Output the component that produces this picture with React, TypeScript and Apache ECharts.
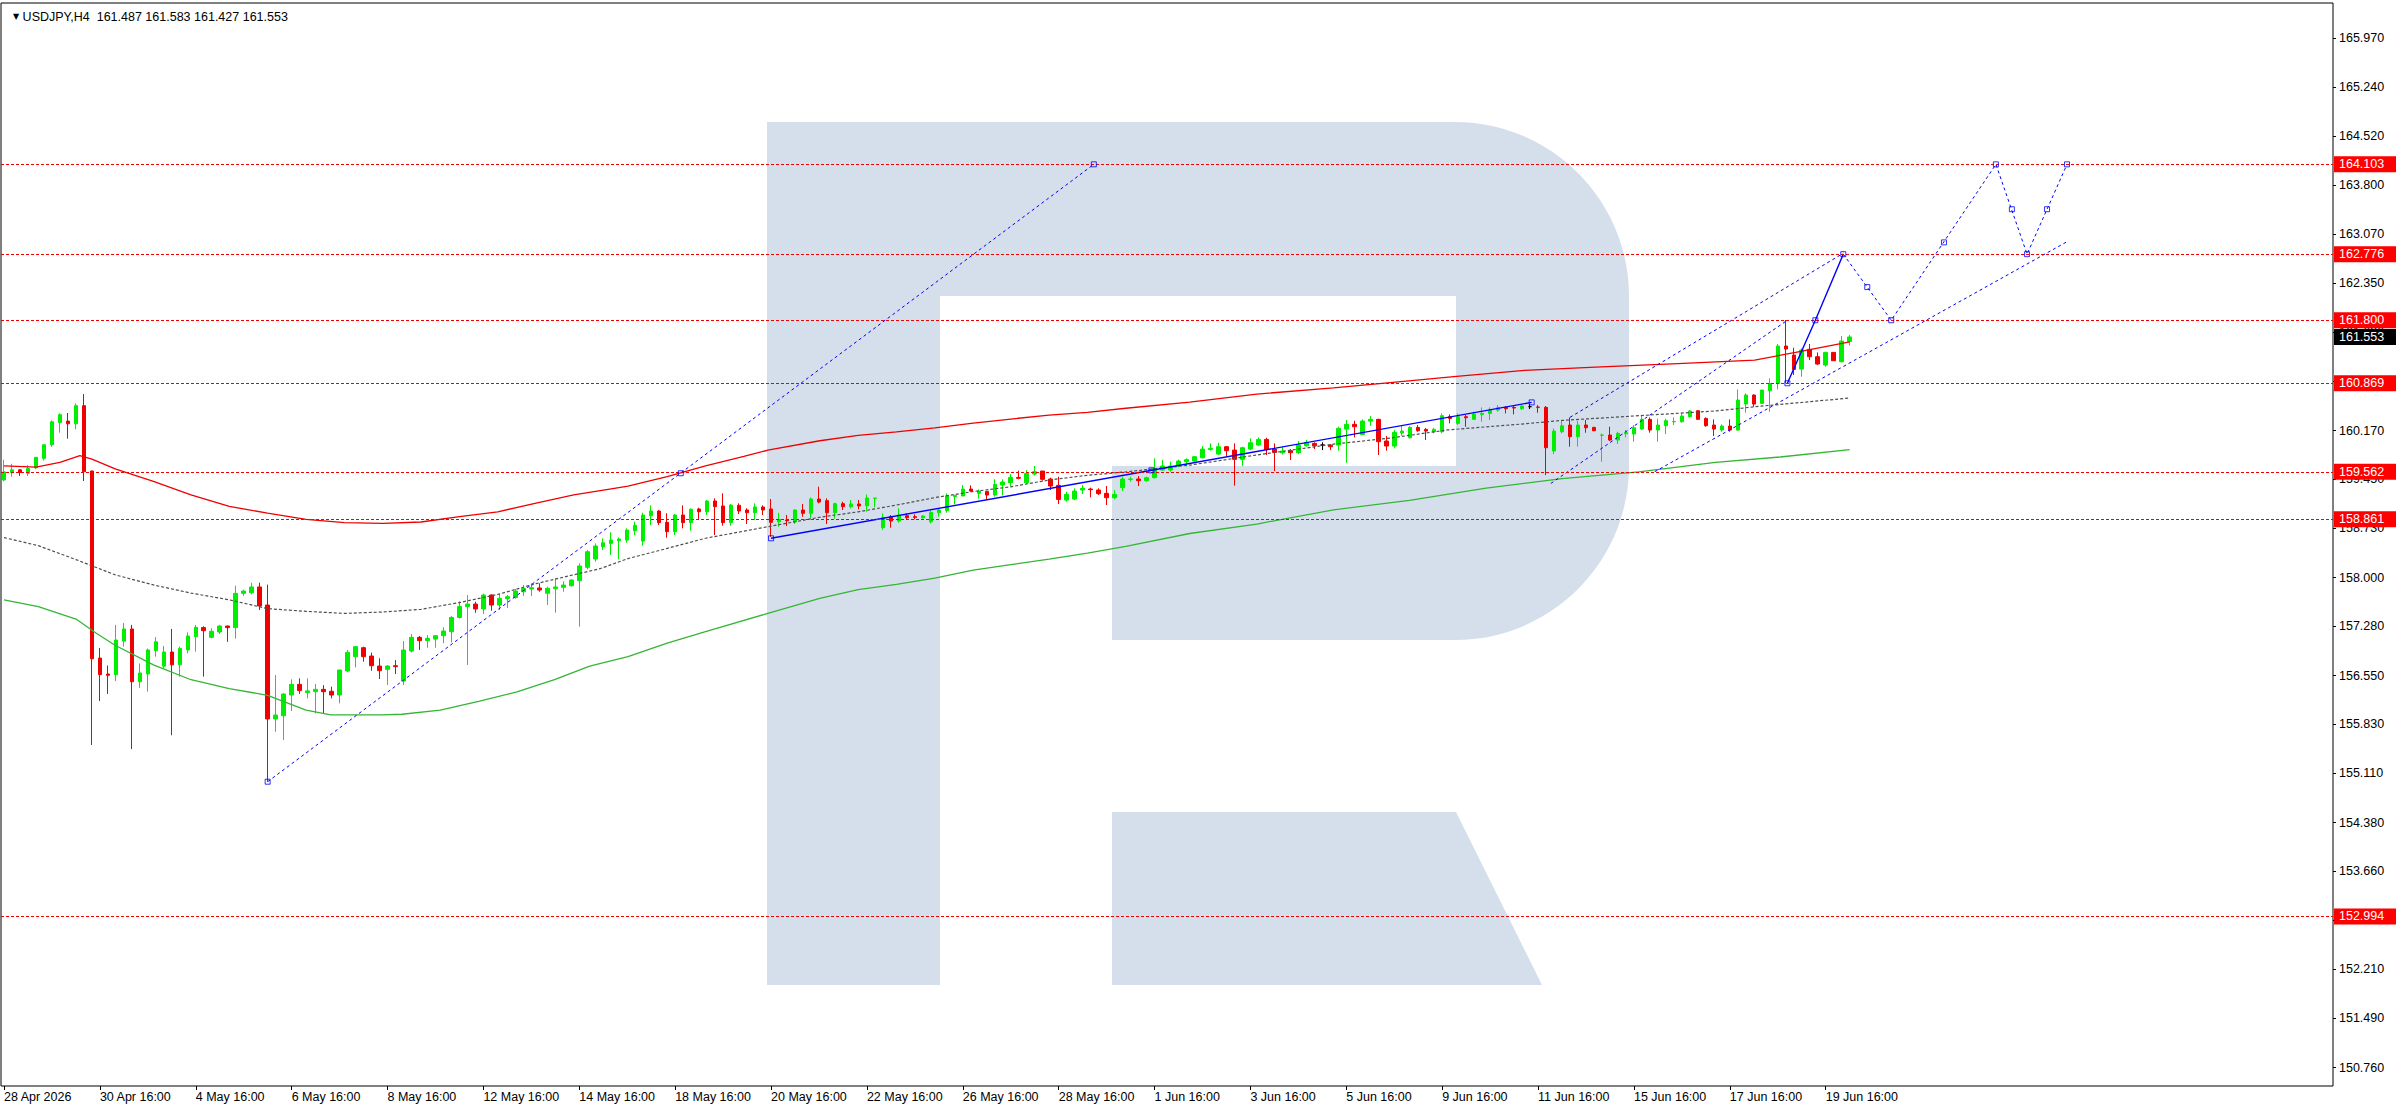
import React, { useEffect, useRef } from "react";
import * as echarts from "echarts";

const FONT = "'Liberation Sans', Arial, sans-serif";

const titleText = "USDJPY,H4  161.487 161.583 161.427 161.553";

const xTickBars = [0, 12, 24, 36, 48, 60, 72, 84, 96, 108, 120, 132, 144, 156, 168, 180, 192, 204, 216, 228];
const xTickLabels = [
  "28 Apr 2026", "30 Apr 16:00", "4 May 16:00", "6 May 16:00", "8 May 16:00", "12 May 16:00",
  "14 May 16:00", "18 May 16:00", "20 May 16:00", "22 May 16:00", "26 May 16:00", "28 May 16:00",
  "1 Jun 16:00", "3 Jun 16:00", "5 Jun 16:00", "9 Jun 16:00", "11 Jun 16:00", "15 Jun 16:00",
  "17 Jun 16:00", "19 Jun 16:00",
];
const yTickLabels = [
  "150.760", "151.490", "152.210", "152.940", "153.660", "154.380", "155.110", "155.830",
  "156.550", "157.280", "158.000", "158.730", "159.450", "160.170", "160.900", "161.630",
  "162.350", "163.070", "163.800", "164.520", "165.240", "165.970",
];

const priceLevels = [164.103, 162.776, 161.8, 160.869, 159.562, 158.861, 152.994];
const lastPrice = 161.553;

// OHLC per H4 bar: [open, high, low, close]
const week1 = [
  [159.44, 159.74, 159.42, 159.56], [159.55, 159.68, 159.49, 159.59], [159.59, 159.6, 159.5, 159.55],
  [159.54, 159.66, 159.5, 159.61], [159.62, 159.78, 159.6, 159.775], [159.76, 159.97, 159.73, 159.96],
  [159.96, 160.32, 159.93, 160.3], [160.29, 160.425, 160.14, 160.405], [160.31, 160.43, 160.05, 160.27],
  [160.27, 160.57, 160.19, 160.538], [160.538, 160.71, 159.425, 159.563], [159.573, 159.58, 155.526, 156.8],
  [156.81, 156.96, 156.175, 156.565], [156.575, 156.7, 156.28, 156.555], [156.565, 157.3, 156.47, 157.077],
  [157.06, 157.33, 156.98, 157.24], [157.24, 157.3, 155.466, 156.46], [156.46, 156.73, 156.37, 156.59],
  [156.575, 156.95, 156.315, 156.93], [156.92, 157.12, 156.83, 157.05],
];
const week2 = [
  [156.69, 156.99, 156.65, 156.9], [156.9, 157.24, 155.67, 156.71], [156.71, 156.98, 156.535, 156.95],
  [156.93, 157.19, 156.88, 157.136], [157.126, 157.3, 156.905, 157.264], [157.26, 157.28, 156.535, 157.214],
  [157.116, 157.25, 157.1, 157.205], [157.195, 157.3, 157.165, 157.283], [157.283, 157.29, 157.05, 157.26],
  [157.26, 157.88, 157.097, 157.766], [157.766, 157.82, 157.73, 157.8], [157.775, 157.923, 157.75, 157.86],
  [157.86, 157.923, 157.52, 157.58], [157.593, 157.894, 154.984, 155.91], [155.91, 156.56, 155.722, 155.968],
  [155.958, 156.29, 155.6, 156.279], [156.264, 156.495, 156.028, 156.422], [156.422, 156.51, 156.28, 156.33],
  [156.3, 156.51, 156.215, 156.325], [156.313, 156.427, 155.993, 156.348], [156.348, 156.41, 155.993, 156.313],
  [156.32, 156.387, 156.215, 156.264], [156.264, 156.634, 156.141, 156.634], [156.619, 156.93, 156.6, 156.894],
  [156.83, 156.988, 156.673, 156.978], [156.963, 156.978, 156.757, 156.83], [156.84, 156.89, 156.623, 156.697],
  [156.692, 156.806, 156.5, 156.624], [156.643, 156.707, 156.412, 156.692], [156.697, 156.78, 156.574, 156.683],
];
const week3 = [
  [156.471, 157.06, 156.412, 156.929], [156.914, 157.165, 156.894, 157.116], [157.116, 157.136, 156.93, 157.067],
  [157.067, 157.15, 156.963, 157.101], [157.09, 157.15, 156.963, 157.14], [157.14, 157.264, 157.03, 157.21],
  [157.2, 157.43, 157.04, 157.41], [157.41, 157.65, 157.392, 157.57], [157.57, 157.741, 156.707, 157.608],
  [157.608, 157.643, 157.48, 157.535], [157.535, 157.761, 157.46, 157.741], [157.741, 157.751, 157.51, 157.593],
  [157.593, 157.756, 157.52, 157.692], [157.687, 157.741, 157.55, 157.716], [157.706, 157.83, 157.687, 157.8],
  [157.79, 157.89, 157.726, 157.84], [157.83, 157.914, 157.726, 157.85], [157.845, 157.914, 157.79, 157.815],
  [157.767, 157.865, 157.594, 157.84], [157.835, 157.987, 157.48, 157.86], [157.855, 157.943, 157.79, 157.889],
  [157.879, 157.973, 157.864, 157.963], [157.953, 158.209, 157.274, 158.17], [158.15, 158.406, 158.12, 158.381],
  [158.273, 158.504, 158.234, 158.465], [158.455, 158.578, 158.406, 158.514], [158.504, 158.667, 158.332, 158.553],
  [158.544, 158.593, 158.268, 158.568], [158.553, 158.726, 158.514, 158.701], [158.691, 158.824, 158.627, 158.77],
];
const week4 = [
  [158.539, 158.957, 158.47, 158.923], [158.913, 159.066, 158.775, 158.982], [158.982, 158.997, 158.775, 158.81],
  [158.815, 158.948, 158.588, 158.677], [158.677, 158.938, 158.627, 158.923], [158.923, 159.066, 158.726, 158.81],
  [158.81, 159.022, 158.691, 159.007], [159.012, 159.031, 158.859, 158.972], [158.972, 159.145, 158.923, 159.13],
  [159.13, 159.169, 158.628, 159.046], [159.056, 159.243, 158.765, 158.81], [158.81, 159.086, 158.765, 159.07],
  [159.066, 159.096, 158.938, 158.982], [158.997, 159.022, 158.79, 158.957], [158.957, 159.096, 158.849, 159.041],
  [159.041, 159.066, 158.923, 158.997], [159.012, 159.159, 158.603, 158.815], [158.824, 158.957, 158.75, 158.859],
  [158.85, 158.923, 158.76, 158.839], [158.824, 159.007, 158.79, 158.997], [158.997, 159.086, 158.898, 158.948],
  [158.948, 159.184, 158.874, 159.159], [159.159, 159.341, 159.095, 159.115], [159.135, 159.169, 158.79, 158.957],
  [158.957, 159.105, 158.869, 159.091], [159.091, 159.12, 158.997, 159.046], [159.046, 159.145, 159.022, 159.086],
  [159.086, 159.145, 159.007, 159.056], [159.061, 159.228, 158.972, 159.174], [159.169, 159.174, 159.036, 159.174],
];
const week5 = [
  [158.736, 158.948, 158.701, 158.883], [158.898, 158.923, 158.736, 158.834], [158.834, 159.022, 158.81, 158.923],
  [158.913, 158.948, 158.849, 158.883], [158.898, 158.933, 158.859, 158.888], [158.883, 158.923, 158.869, 158.908],
  [158.824, 158.987, 158.8, 158.962], [158.957, 159.022, 158.898, 158.997], [158.987, 159.243, 158.957, 159.204],
  [159.194, 159.218, 159.08, 159.213], [159.204, 159.366, 159.204, 159.307], [159.307, 159.361, 159.268, 159.277],
  [159.243, 159.302, 159.164, 159.277], [159.272, 159.277, 159.154, 159.218], [159.218, 159.45, 159.194, 159.376],
  [159.366, 159.45, 159.213, 159.41], [159.4, 159.528, 159.351, 159.479], [159.479, 159.578, 159.45, 159.465],
  [159.4, 159.588, 159.381, 159.538], [159.528, 159.647, 159.504, 159.563], [159.573, 159.573, 159.43, 159.45],
  [159.455, 159.474, 159.292, 159.351], [159.361, 159.489, 159.085, 159.154], [159.144, 159.268, 159.12, 159.228],
  [159.159, 159.317, 159.144, 159.277], [159.292, 159.366, 159.233, 159.317], [159.307, 159.327, 159.184, 159.297],
  [159.292, 159.317, 159.218, 159.238], [159.243, 159.351, 159.071, 159.179], [159.179, 159.292, 159.154, 159.228],
];
const week6 = [
  [159.327, 159.489, 159.277, 159.455], [159.45, 159.489, 159.415, 159.455], [159.455, 159.499, 159.351, 159.43],
  [159.43, 159.489, 159.415, 159.474], [159.474, 159.76, 159.465, 159.612], [159.587, 159.736, 159.578, 159.647],
  [159.588, 159.711, 159.563, 159.647], [159.66, 159.74, 159.63, 159.72], [159.71, 159.76, 159.64, 159.74],
  [159.72, 159.794, 159.71, 159.784], [159.769, 159.942, 159.759, 159.897], [159.892, 159.981, 159.873, 159.907],
  [159.823, 159.991, 159.808, 159.932], [159.932, 159.942, 159.784, 159.873], [159.882, 159.981, 159.356, 159.745],
  [159.745, 159.932, 159.646, 159.917], [159.897, 160.055, 159.882, 159.991], [159.957, 160.07, 159.942, 160.04],
  [160.04, 160.065, 159.809, 159.892], [159.897, 159.981, 159.572, 159.848], [159.843, 159.932, 159.818, 159.868],
  [159.873, 159.897, 159.735, 159.843], [159.843, 160.016, 159.823, 159.956], [159.946, 160.03, 159.932, 159.996],
  [159.981, 159.996, 159.897, 159.946], [159.957, 159.996, 159.882, 159.957], [159.956, 159.966, 159.882, 159.932],
  [159.956, 160.227, 159.873, 160.203], [160.193, 160.326, 159.695, 160.262], [160.262, 160.316, 160.07, 160.227],
];
const week7 = [
  [160.114, 160.336, 160.104, 160.311], [160.311, 160.385, 160.242, 160.336], [160.336, 160.345, 159.809, 160.006],
  [160.016, 160.089, 159.873, 159.942], [159.942, 160.178, 159.907, 160.144], [160.134, 160.252, 160.094, 160.163],
  [160.065, 160.237, 160.055, 160.217], [160.217, 160.252, 160.153, 160.168], [160.188, 160.207, 160.03, 160.163],
  [160.153, 160.212, 160.129, 160.188], [160.153, 160.424, 160.129, 160.39], [160.375, 160.409, 160.276, 160.35],
  [160.276, 160.424, 160.252, 160.375], [160.375, 160.4, 160.227, 160.36], [160.336, 160.449, 160.326, 160.414],
  [160.409, 160.513, 160.301, 160.424], [160.424, 160.513, 160.326, 160.473], [160.473, 160.547, 160.449, 160.508],
  [160.513, 160.532, 160.424, 160.493], [160.513, 160.532, 160.41, 160.503], [160.493, 160.547, 160.473, 160.532],
  [160.523, 160.562, 160.488, 160.523], [160.518, 160.547, 160.434, 160.513], [160.513, 160.532, 159.513, 159.917],
  [159.868, 160.202, 159.823, 160.163], [160.153, 160.311, 160.129, 160.242], [160.252, 160.365, 159.932, 160.08],
  [160.08, 160.311, 159.932, 160.252], [160.252, 160.326, 160.139, 160.212], [160.217, 160.227, 160.163, 160.168],
];
const week8 = [
  [160.1, 160.129, 159.71, 160.104], [160.104, 160.227, 160.016, 160.03], [160.03, 160.153, 159.972, 160.129],
  [160.124, 160.178, 160.07, 160.139], [160.119, 160.252, 160.006, 160.212], [160.193, 160.385, 160.178, 160.336],
  [160.336, 160.365, 160.139, 160.178], [160.178, 160.345, 160.006, 160.252], [160.242, 160.345, 160.119, 160.316],
  [160.3, 160.365, 160.252, 160.305], [160.301, 160.424, 160.286, 160.385], [160.375, 160.473, 160.365, 160.459],
  [160.464, 160.473, 160.326, 160.336], [160.35, 160.365, 160.227, 160.242], [160.252, 160.336, 160.089, 160.193],
  [160.178, 160.262, 160.153, 160.237], [160.237, 160.336, 160.153, 160.178], [160.178, 160.779, 160.168, 160.621],
  [160.562, 160.72, 160.434, 160.695], [160.695, 160.705, 160.523, 160.562], [160.572, 160.769, 160.562, 160.769],
  [160.759, 160.941, 160.449, 160.867], [160.867, 161.449, 160.78, 161.419], [161.419, 161.803, 160.867, 161.375],
  [161.286, 161.394, 160.99, 161.074], [161.079, 161.384, 160.966, 161.36], [161.37, 161.449, 161.212, 161.261],
  [161.261, 161.325, 161.138, 161.153], [161.138, 161.335, 161.114, 161.325], [161.325, 161.325, 161.202, 161.202],
];
const week9 = [
  [161.187, 161.567, 161.177, 161.493], [161.487, 161.583, 161.427, 161.553],
];

const blackDojiBars = [165, 191];

// moving averages, read as [bar, price]
const redMA = [
  [0, 159.65], [4, 159.63], [7, 159.7], [9.5, 159.8], [11, 159.75], [14, 159.6], [18.7, 159.42], [23.4, 159.22],
  [28.2, 159.05], [33, 158.95], [37.8, 158.86], [42.6, 158.81], [47.4, 158.8], [52.2, 158.82], [57, 158.9],
  [61.8, 158.97], [66.6, 159.1], [71.3, 159.22], [76, 159.31], [78.1, 159.35], [83, 159.49], [87.8, 159.65],
  [92.6, 159.79], [95.6, 159.88], [102.1, 160.02], [106.9, 160.1], [111.7, 160.15], [116.5, 160.21],
  [121.3, 160.28], [126, 160.34], [130.8, 160.4], [135.6, 160.44], [140.4, 160.5], [148.4, 160.59],
  [156.8, 160.71], [166.4, 160.8], [173.5, 160.88], [181.8, 160.97], [190.3, 161.06], [199.9, 161.11],
  [209.5, 161.16], [219.1, 161.21], [224.4, 161.33], [231, 161.48],
];
const grayMA = [
  [0, 158.59], [4.3, 158.47], [9.1, 158.26], [13.9, 158.04], [18.7, 157.89], [23.4, 157.77], [28.2, 157.67],
  [33, 157.54], [37.8, 157.5], [42.6, 157.47], [47.4, 157.49], [52.2, 157.53], [57, 157.63], [61.8, 157.75],
  [66.6, 157.91], [71.3, 158.04], [74.6, 158.13], [78.1, 158.28], [83, 158.43], [87.8, 158.58], [95.6, 158.75],
  [102.1, 158.89], [106.9, 158.97], [111.7, 159.07], [116.5, 159.18], [121.3, 159.27], [126, 159.34],
  [130.8, 159.44], [135.6, 159.51], [140.4, 159.56], [148.4, 159.66], [156.8, 159.81], [166.4, 159.97],
  [173.5, 160.06], [180.7, 160.18], [190.3, 160.27], [195, 160.32], [204.6, 160.39], [214.2, 160.46],
  [219.8, 160.53], [224.4, 160.58], [230.9, 160.65],
];
const greenMA = [
  [0, 157.67], [4.3, 157.57], [9.1, 157.38], [11.5, 157.18], [13.9, 157.0], [18.7, 156.71], [23.4, 156.49],
  [28.2, 156.36], [33, 156.26], [37.8, 156.04], [40.9, 155.97], [47.4, 155.97], [49.8, 155.98], [54.6, 156.04],
  [59.4, 156.17], [64.2, 156.31], [68.9, 156.49], [73.3, 156.69], [78.1, 156.83], [83, 157.03], [87.8, 157.2],
  [95.6, 157.47], [102.1, 157.69], [106.9, 157.82], [111.7, 157.9], [116.5, 157.99], [121.3, 158.11],
  [126, 158.19], [130.8, 158.27], [135.6, 158.36], [140.4, 158.46], [148.4, 158.65], [156.8, 158.79],
  [166.4, 159.0], [175.9, 159.14], [185.5, 159.32], [195, 159.46], [204.6, 159.56], [214.2, 159.7],
  [222.3, 159.78], [231, 159.89],
];

// analysis drawings, read as [bar, price]
const trendLong = [[33, 154.984], [136.4, 164.103]];
const trendSolid = [[96, 158.579], [191.2, 160.587]];
const channelUpper = [[196, 160.366], [230.2, 162.79]];
const channelInner = [[193.6, 159.39], [223.2, 161.8]];
const channelLower = [[206.6, 159.563], [258.2, 162.96]];
const forecastSolid = [[223.2, 160.869], [226.7, 161.8], [230.2, 162.776]];
const forecastDashed = [[230.2, 162.776], [236.2, 161.8], [249.3, 164.103], [253.2, 162.776], [258.2, 164.103]];
const anchorPoints = [
  [33, 154.984], [84.7, 159.54], [136.4, 164.103],
  [96, 158.579], [143.6, 159.583], [191.2, 160.587],
  [223.2, 160.869], [226.7, 161.8], [230.2, 162.776],
  [233.2, 162.29], [236.2, 161.8], [242.8, 162.95], [249.3, 164.103],
  [251.3, 163.44], [253.2, 162.776], [255.7, 163.44], [258.2, 164.103],
];

const LOGO_D =
  "M767 122 H1455 C1551.1 122 1629 199.9 1629 296 V466 C1629 562.1 1551.1 640 1455 640 H1112 V466 H1456 V296 H940 V985 H767 Z " +
  "M1112 812 H1456 L1542 985 H1112 Z";

let logoRegistered = false;
function ensureLogo() {
  if (logoRegistered) return;
  echarts.graphic.registerShape("roboLogo", echarts.graphic.extendPath(LOGO_D, {}) as any);
  logoRegistered = true;
}

export default function App() {
  const ref = useRef<HTMLDivElement>(null);

  useEffect(() => {
    if (!ref.current) return;
    ensureLogo();
    const chart = echarts.init(ref.current, undefined, { renderer: "svg" });

    const weeks = [week1, week2, week3, week4, week5, week6, week7, week8, week9];
    const bars = ([] as number[][]).concat(...weeks);
    const candleData = bars.map((b, k) => {
      const item: any = { value: [k, b[0], b[3], b[2], b[1]] };
      if (blackDojiBars.includes(k)) {
        item.itemStyle = { color: "#000", color0: "#000", borderColor: "#000", borderColor0: "#000" };
      }
      return item;
    });

    const xLabelMap: Record<number, string> = {};
    xTickBars.forEach((b, i) => (xLabelMap[b] = xTickLabels[i]));
    const yTickValues = yTickLabels.map((s) => parseFloat(s));

    const blue = "#0000ff";
    const dashedBlue = (data: number[][]) => ({
      type: "line",
      data,
      symbol: "none",
      silent: true,
      z: 4,
      lineStyle: { color: blue, width: 1, type: [3, 3] },
    });

    const option: any = {
      animation: false,
      backgroundColor: "#ffffff",
      textStyle: { fontFamily: FONT },
      title: {
        text: "{tri|▼} " + titleText,
        left: 8,
        top: 5,
        textStyle: {
          fontFamily: FONT,
          fontSize: 12.5,
          fontWeight: "normal",
          color: "#000",
          rich: { tri: { fontSize: 8, color: "#000", fontFamily: "DejaVu Sans" } },
        },
      },
      grid: {
        left: 1,
        right: 63,
        top: 3,
        bottom: 24,
        show: true,
        borderColor: "#000",
        borderWidth: 1,
        backgroundColor: "transparent",
      },
      xAxis: {
        type: "value",
        min: -0.3755,
        max: 291.49,
        axisLine: { show: false, onZero: false },
        splitLine: { show: false },
        axisTick: { show: true, length: 4, lineStyle: { color: "#000" }, customValues: xTickBars },
        axisLabel: {
          customValues: xTickBars,
          formatter: (v: number) => xLabelMap[Math.round(v)] ?? "",
          align: "left",
          margin: 4,
          color: "#000",
          fontSize: 12.5,
          fontFamily: FONT,
        },
      },
      yAxis: {
        type: "value",
        position: "right",
        min: 150.489,
        max: 166.486,
        axisLine: { show: false, onZero: false },
        splitLine: { show: false },
        axisTick: { show: true, length: 3, lineStyle: { color: "#000" }, customValues: yTickValues },
        axisLabel: {
          customValues: yTickValues,
          formatter: (v: number) => v.toFixed(3),
          margin: 6,
          color: "#000",
          fontSize: 12.5,
          fontFamily: FONT,
        },
      },
      graphic: [
        {
          type: "roboLogo",
          x: 0,
          y: 0,
          z: -10,
          silent: true,
          style: { fill: "#d5dfeb" },
        },
      ],
      series: [
        {
          type: "candlestick",
          name: "USDJPY",
          data: candleData,
          encode: { x: 0, y: [1, 2, 3, 4] },
          barWidth: 4,
          z: 2,
          itemStyle: {
            color: "#00ee00",
            color0: "#f00000",
            borderColor: "#00ee00",
            borderColor0: "#f00000",
            borderWidth: 1,
          },
          markLine: {
            silent: true,
            symbol: ["none", "none"],
            precision: 3,
            animation: false,
            lineStyle: { color: "#f00000", type: [3, 2], width: 1 },
            label: {
              show: true,
              position: "end",
              distance: 1,
              formatter: (p: any) => Number(p.value).toFixed(3),
              color: "#fff",
              backgroundColor: "#ff0000",
              padding: [2, 12, 1, 5],
              fontSize: 12.5,
              fontFamily: FONT,
            },
            data: [
              ...priceLevels.map((v) => ({ yAxis: v })),
              {
                yAxis: lastPrice,
                lineStyle: { color: "rgba(0,0,0,0)", width: 0 },
                label: { backgroundColor: "#000000", color: "#fff" },
              },
            ],
          },
        },
        {
          type: "line",
          data: greenMA,
          symbol: "none",
          silent: true,
          z: 3,
          lineStyle: { color: "#35b535", width: 1.3 },
        },
        {
          type: "line",
          data: grayMA,
          symbol: "none",
          silent: true,
          z: 3,
          lineStyle: { color: "#4f4f4f", width: 1.2, type: [3, 2] },
        },
        {
          type: "line",
          data: redMA,
          symbol: "none",
          silent: true,
          z: 3,
          lineStyle: { color: "#f00000", width: 1.3 },
        },
        dashedBlue(trendLong),
        dashedBlue(channelUpper),
        dashedBlue(channelInner),
        dashedBlue(channelLower),
        dashedBlue(forecastDashed),
        {
          type: "line",
          data: trendSolid,
          symbol: "none",
          silent: true,
          z: 4,
          lineStyle: { color: blue, width: 1.4 },
        },
        {
          type: "line",
          data: forecastSolid,
          symbol: "none",
          silent: true,
          z: 4,
          lineStyle: { color: blue, width: 1.4 },
        },
        {
          type: "scatter",
          data: anchorPoints,
          symbol: "rect",
          symbolSize: 5,
          silent: true,
          z: 5,
          itemStyle: { color: "rgba(255,255,255,0)", borderColor: blue, borderWidth: 1 },
        },
      ],
    };

    chart.setOption(option);
    return () => chart.dispose();
  }, []);

  return (
    <div
      ref={ref}
      style={{ position: "absolute", left: 0, top: 0, width: 2396, height: 1110, background: "#fff" }}
    />
  );
}
